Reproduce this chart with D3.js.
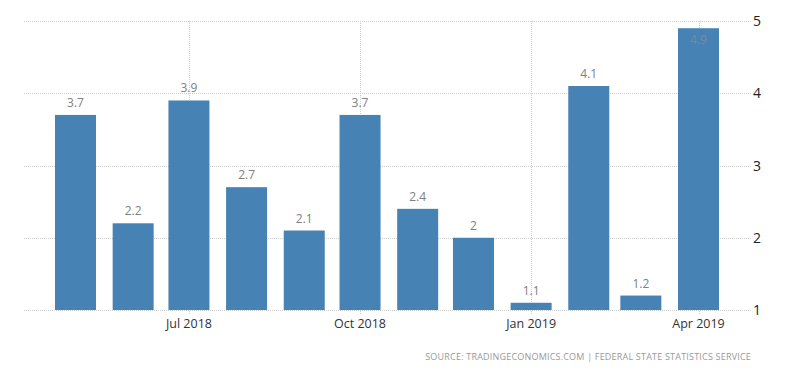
<!DOCTYPE html>
<html>
<head>
<meta charset="utf-8">
<script src="https://cdn.jsdelivr.net/npm/d3@7"></script>
<style>
  body { margin: 0; background: #fff; }
  text { font-family: "Open Sans", "DejaVu Sans", sans-serif; }
</style>
</head>
<body>
<div id="main"></div>
<script>
const ctx = { w: 800, h: 373 };

// data
const months = ['2018-05', '2018-06', '2018-07', '2018-08', '2018-09', '2018-10',
                '2018-11', '2018-12', '2019-01', '2019-02', '2019-03', '2019-04'];
const values = [3.7, 2.2, 3.9, 2.7, 2.1, 3.7, 2.4, 2, 1.1, 4.1, 1.2, 4.9];
const xTicks = ['2018-07', '2018-10', '2019-01', '2019-04'];
const yTicks = [1, 2, 3, 4, 5];
const sourceText = 'SOURCE: TRADINGECONOMICS.COM  |  FEDERAL  STATE  STATISTICS  SERVICE';

const parse = d3.timeParse('%Y-%m');
const data = months.map((m, i) => ({ date: parse(m), value: values[i] }));

const plot = { left: 24, right: 752, top: 21, bottom: 310 };
const barW = 41;

const svg = d3.select('#main').append('svg')
    .attr('width', ctx.w)
    .attr('height', ctx.h);

const x = d3.scaleTime()
    .domain([parse('2018-05'), parse('2019-04')])
    .range([75.5, 698.5]);

const y = d3.scaleLinear()
    .domain([1, 5])
    .range([plot.bottom, plot.top]);

// horizontal grid
svg.append('g').selectAll('line')
    .data(yTicks)
    .enter().append('line')
    .attr('x1', plot.left)
    .attr('x2', plot.right)
    .attr('y1', d => Math.round(y(d)) + 0.5)
    .attr('y2', d => Math.round(y(d)) + 0.5)
    .attr('stroke', '#cfcfcf')
    .attr('stroke-dasharray', '1,1');

// vertical grid
svg.append('g').selectAll('line')
    .data(xTicks)
    .enter().append('line')
    .attr('x1', d => Math.round(x(parse(d))) + 0.5)
    .attr('x2', d => Math.round(x(parse(d))) + 0.5)
    .attr('y1', plot.top)
    .attr('y2', plot.bottom + 4)
    .attr('stroke', '#cfcfcf')
    .attr('stroke-dasharray', '1,1');

// bars
svg.append('g').selectAll('rect')
    .data(data)
    .enter().append('rect')
    .attr('x', d => x(d.date) - barW / 2)
    .attr('y', d => y(d.value))
    .attr('width', barW)
    .attr('height', d => y(1) - y(d.value))
    .attr('fill', '#4682b4');

// value labels (the last one sits inside the bar, as in the original)
svg.append('g').selectAll('text')
    .data(data)
    .enter().append('text')
    .attr('x', d => x(d.date))
    .attr('y', d => d.value > 4.5 ? y(d.value) + 16 : y(d.value) - 8)
    .attr('text-anchor', 'middle')
    .style('font-size', '12px')
    .style('fill', d => d.value > 4.5 ? '#7a8a9a' : '#808080')
    .text(d => d.value);

// y axis labels on the right
svg.append('g').selectAll('text')
    .data(yTicks)
    .enter().append('text')
    .attr('x', 753)
    .attr('y', d => y(d) + 5)
    .style('font-size', '14px')
    .style('fill', '#222')
    .text(d => d);

// x axis labels
const fmt = d3.timeFormat('%b %Y');
svg.append('g').selectAll('text')
    .data(xTicks)
    .enter().append('text')
    .attr('x', d => x(parse(d)))
    .attr('y', 328)
    .attr('text-anchor', 'middle')
    .style('font-size', '12.5px')
    .style('fill', '#333')
    .text(d => fmt(parse(d)));

// source
svg.append('text')
    .attr('x', 751)
    .attr('y', 360)
    .attr('text-anchor', 'end')
    .style('font-size', '9px')
    .style('letter-spacing', '0.2px')
    .style('fill', '#999')
    .text(sourceText);
</script>
</body>
</html>
